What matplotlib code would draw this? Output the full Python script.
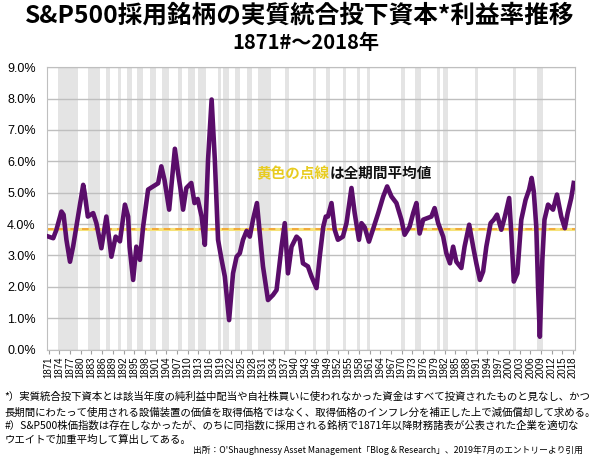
import numpy as np
import matplotlib.pyplot as plt

# S&P500 real ROIC (annual-ish readings from the chart, %)
years = [1871.0, 1872.3, 1873.2, 1874.6, 1875.2, 1876.0, 1877.0, 1877.9, 1878.8, 1879.7,
         1880.7, 1881.1, 1882.0, 1883.5, 1884.4, 1885.8, 1887.2, 1888.6, 1889.8, 1891.0,
         1892.4, 1893.3, 1893.7, 1894.7, 1895.6, 1896.6, 1897.5, 1898.9, 1900.3, 1901.7,
         1902.6, 1903.5, 1904.8, 1906.4, 1907.3, 1908.0, 1908.7, 1909.6, 1911.0, 1911.9,
         1912.8, 1913.9, 1914.8, 1915.7, 1916.7, 1917.6, 1918.5, 1919.5, 1920.4, 1921.6,
         1922.7, 1923.7, 1924.6, 1925.5, 1926.5, 1927.4, 1928.3, 1929.4, 1930.2, 1931.1,
         1932.5, 1933.9, 1934.9, 1936.3, 1937.2, 1938.1, 1939.1, 1940.5, 1941.4, 1942.3,
         1943.7, 1944.7, 1946.1, 1947.0, 1948.0, 1948.7, 1949.3, 1950.3, 1951.2, 1952.1,
         1953.5, 1954.5, 1955.9, 1956.8, 1958.0, 1958.7, 1959.6, 1960.8, 1961.9, 1963.4,
         1964.8, 1965.9, 1967.1, 1968.5, 1969.9, 1970.8, 1972.2, 1973.2, 1974.1, 1975.0,
         1976.0, 1977.4, 1978.3, 1979.2, 1980.2, 1981.6, 1982.5, 1983.5, 1984.4, 1985.3,
         1986.7, 1987.6, 1988.9, 1990.0, 1990.9, 1991.9, 1992.8, 1993.7, 1994.9, 1995.8,
         1996.7, 1997.9, 1998.9, 2000.1, 2000.7, 2001.4, 2002.4, 2003.5, 2004.7, 2005.7,
         2006.4, 2007.0, 2007.7, 2008.2, 2008.7, 2009.4, 2010.0, 2011.0, 2012.4, 2013.5,
         2014.7, 2015.7, 2016.5, 2017.5, 2018.2]
roic = [3.6, 3.55, 3.82, 4.4, 4.3, 3.5, 2.8, 3.3, 3.92, 4.56,
        5.25, 5.0, 4.24, 4.35, 4.03, 3.23, 4.24, 2.96, 3.6, 3.45,
        4.62, 4.24, 3.28, 2.22, 3.28, 2.86, 3.92, 5.1, 5.2, 5.3,
        5.84, 5.4, 4.46, 6.4, 5.63, 5.1, 4.46, 5.15, 5.31, 4.67,
        4.8, 4.24, 3.34, 6.05, 7.97, 6.05, 3.5, 2.86, 2.33, 0.94,
        2.43, 2.96, 3.07, 3.5, 3.78, 3.6, 4.14, 4.67, 3.7, 2.65,
        1.58, 1.74, 1.9, 3.28, 4.03, 2.43, 3.28, 3.6, 3.5, 2.75,
        2.65, 2.33, 1.96, 2.96, 3.92, 4.24, 4.24, 4.67, 3.82, 3.5,
        3.6, 4.03, 5.15, 4.35, 3.5, 4.03, 3.9, 3.44, 3.82, 4.35,
        4.88, 5.2, 4.88, 4.67, 4.14, 3.66, 3.92, 4.35, 4.67, 3.7,
        4.14, 4.2, 4.24, 4.51, 4.03, 3.6, 3.07, 2.75, 3.28, 2.8,
        2.6, 3.28, 3.98, 3.28, 2.75, 2.22, 2.49, 3.28, 4.03, 4.14,
        4.3, 3.82, 4.24, 4.83, 3.7, 2.17, 2.43, 4.14, 4.77, 5.1,
        5.47, 5.04, 3.92, 2.0, 0.41, 2.86, 4.14, 4.62, 4.46, 4.94,
        4.24, 3.87, 4.35, 4.83, 5.31]
avg_roic = 3.85

# US recessions (start, end) in decimal years
rec_start = [1873.75, 1882.17, 1887.17, 1890.5, 1893.0, 1895.92, 1899.42, 1902.67, 1907.33,
             1910.0, 1913.0, 1918.58, 1920.0, 1923.33, 1926.75, 1929.58, 1937.33, 1945.08,
             1948.83, 1953.5, 1957.58, 1960.25, 1969.92, 1973.83, 1980.0, 1981.5, 1990.5,
             2001.17, 2007.92]
rec_end = [1879.25, 1885.42, 1888.33, 1891.42, 1894.5, 1897.5, 1901.0, 1904.67, 1908.5,
           1912.08, 1915.0, 1919.25, 1921.58, 1924.58, 1927.92, 1933.25, 1938.5, 1945.83,
           1949.83, 1954.42, 1958.33, 1961.17, 1970.92, 1975.25, 1980.58, 1982.92, 1991.25,
           2001.92, 2009.5]

tick_years = list(range(1871, 2019, 3))
y_ticks = list(range(0, 10))

cjk = ['Noto Sans CJK JP', 'DejaVu Sans']

fig = plt.figure(figsize=(6, 4.57), dpi=100)
ax = fig.add_axes([0.078, 0.235, 0.88, 0.618])

for s, e in zip(rec_start, rec_end):
    ax.axvspan(s, e, color='#e4e4e4', lw=0, zorder=0)

ax.axhline(avg_roic, color='#f6e27a', lw=2.2, zorder=2)
ax.axhline(avg_roic, color='#f0a030', lw=1.2, ls=(0, (4, 3)), zorder=2)
ax.plot(years, roic, color='#5a0d6a', lw=3.3, solid_joinstyle='round', zorder=3)

ax.set_xlim(1870.5, 2018.5)
ax.set_ylim(0, 9)
ax.set_yticks(y_ticks)
ax.set_yticklabels([f'{v:.1f}%' for v in y_ticks], family='Liberation Sans', fontsize=9)
ax.set_xticks(tick_years)
ax.set_xticklabels([str(y) for y in tick_years], rotation=90, family='Liberation Sans', fontsize=7)
ax.tick_params(axis='y', length=0, pad=8)
ax.tick_params(axis='x', length=3, color='#a0a0a0', pad=2)
ax.yaxis.grid(True, color='#bfbfbf', lw=1)
ax.set_axisbelow(True)
for sp in ax.spines.values():
    sp.set_color('#bfbfbf')
    sp.set_linewidth(0.8)

# title
fig.text(0.5, 0.965, 'S&P500採用銘柄の実質統合投下資本*利益率推移', ha='center', va='center',
         fontsize=17.7, fontweight='bold', family=cjk)
fig.text(0.51, 0.907, '1871#～2018年', ha='center', va='center',
         fontsize=14.5, fontweight='bold', family=cjk)

# note inside the plot
t1 = fig.text(0.427, 0.621, '黄色の点線', ha='left', va='center', fontsize=10.5,
              fontweight='bold', color='#e8cc20', family=cjk)
fig.canvas.draw()
bb = t1.get_window_extent().transformed(fig.transFigure.inverted())
fig.text(bb.x1, 0.621, 'は全期間平均値', ha='left', va='center', fontsize=10.5,
         fontweight='bold', color='#111111', family=cjk)

# footnotes
notes = ['*）実質統合投下資本とは該当年度の純利益中配当や自社株買いに使われなかった資金はすべて投資されたものと見なし、かつ',
         '長期間にわたって使用される設備装置の価値を取得価格ではなく、取得価格のインフレ分を補正した上で減価償却して求める。',
         '#）S&P500株価指数は存在しなかったが、のちに同指数に採用される銘柄で1871年以降財務諸表が公表された企業を適切な',
         'ウエイトで加重平均して算出してある。']
note_y = [0.131, 0.098, 0.068, 0.039]
for txt, yy in zip(notes, note_y):
    fig.text(0.007, yy, txt, ha='left', va='center', fontsize=7.5, family=cjk)
fig.text(0.972, 0.015, '出所：O\'Shaughnessy Asset Management「Blog & Research」、2019年7月のエントリーより引用',
         ha='right', va='center', fontsize=6.3, family=cjk)

fig.savefig('out.png', dpi=100)
